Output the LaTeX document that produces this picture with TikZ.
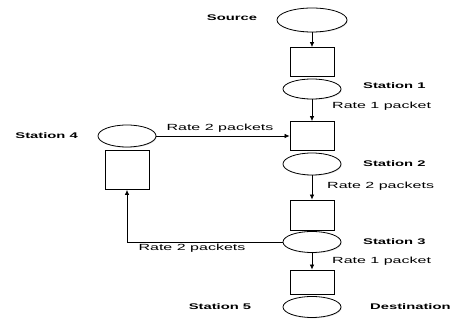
\documentclass[tikz,border=0pt]{standalone}
\usepackage{fontspec}
\setmainfont{Liberation Sans}
\newfontfamily\widefont[FakeStretch=1.8]{Liberation Sans}
\usetikzlibrary{arrows.meta,shapes.geometric,shadows}

\tikzset{
	queue/.style={draw,fill=white,line width=0.8pt,inner sep=0pt,minimum width=44pt,
		drop shadow={shadow xshift=0.8pt,shadow yshift=-0.8pt,opacity=0.25}},
	server/.style={ellipse,draw,fill=white,line width=0.8pt,inner sep=0pt,minimum width=58pt,
		drop shadow={shadow xshift=0.8pt,shadow yshift=-0.8pt,opacity=0.25}},
	tag/.style={font=\widefont\bfseries\fontsize{8.2}{9}\selectfont,inner sep=0pt},
	rate/.style={font=\widefont\fontsize{8.9}{10}\selectfont,inner sep=0pt},
	flow/.style={line width=0.7pt,-{Latex[length=5pt,width=4.5pt]}}
}

\begin{document}
\begin{tikzpicture}[x=1pt,y=-1pt]
	\useasboundingbox (0,0) rectangle (451,320);
	
	% main line
	\node[server,minimum width=70pt,minimum height=24pt] (src) at (312,20) {};
	\node[queue,minimum height=29pt] (q1) at (312,62) {};
	\node[server,minimum height=20pt] (s1) at (312,89) {};
	\node[queue,minimum height=29pt] (q2) at (312,136) {};
	\node[server,minimum height=22pt] (s2) at (312,164) {};
	\node[queue,minimum height=30pt] (q3) at (312,215) {};
	\node[server,minimum height=21pt] (s3) at (312,242) {};
	\node[queue,minimum height=24pt] (q5) at (312,282) {};
	\node[server,minimum height=21pt] (dst) at (312,307) {};
	
	% side loop
	\node[server,minimum height=22pt] (s4) at (127,136) {};
	\node[queue,minimum height=39pt] (q4) at (127,170) {};
	
	\draw[flow] (src) -- (q1);
	\draw[flow] (s1) -- (q2);
	\draw[flow] (s2) -- (q3);
	\draw[flow] (s3) -- (q5);
	\draw[flow] (s4.east) -- (q2.west);
	\draw[flow] (s3.west) -| (q4.south);
	
	\node[tag] (lsrc) at (232,18) {Source};
	\node[tag,anchor=west] (ls1) at (363,86) {Station 1};
	\node[tag,anchor=west] (ls2) at (363,164) {Station 2};
	\node[tag,anchor=west] (ls3) at (363,242) {Station 3};
	\node[tag,anchor=east] (ls4) at (78,136) {Station 4};
	\node[tag] (ls5) at (220,307) {Station 5};
	\node[tag,anchor=west] (ldst) at (370,307) {Destination};
	
	\node[rate,anchor=west] (r1) at (332,106) {Rate 1 packet};
	\node[rate,anchor=west] (r2) at (327,186) {Rate 2 packets};
	\node[rate,anchor=west] (r3) at (332,261) {Rate 1 packet};
	\node[rate] (r4) at (220,128) {Rate 2 packets};
	\node[rate] (r5) at (192,248) {Rate 2 packets};
\end{tikzpicture}
\end{document}
